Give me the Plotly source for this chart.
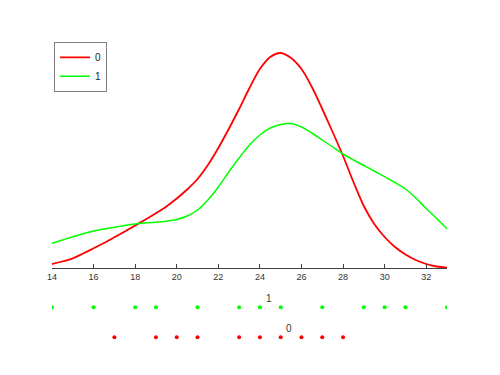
import plotly.graph_objects as go

# Density curves, at half-unit steps from 14 to 33
x_grid = [14, 14.5, 15, 15.5, 16, 16.5, 17, 17.5, 18, 18.5, 19, 19.5, 20, 20.5, 21, 21.5,
          22, 22.5, 23, 23.5, 24, 24.5, 25, 25.5, 26, 26.5, 27, 27.5, 28, 28.5, 29, 29.5,
          30, 30.5, 31, 31.5, 32, 32.5, 33]
density_0 = [0.0020, 0.00325, 0.00485, 0.00725, 0.00985, 0.0125, 0.01535, 0.01825, 0.02125,
             0.02425, 0.02735, 0.03075, 0.03475, 0.03925, 0.0445, 0.0515, 0.0600, 0.0695,
             0.0795, 0.0900, 0.0995, 0.1055, 0.1075, 0.1050, 0.0995, 0.0905, 0.0795, 0.0680,
             0.0560, 0.0430, 0.0310, 0.0220, 0.0155, 0.0105, 0.00675, 0.0040, 0.0020,
             0.00075, 0.00015]
density_1 = [0.01235, 0.0140, 0.01565, 0.01715, 0.0185, 0.0195, 0.02035, 0.02125, 0.0220,
             0.0225, 0.0229, 0.0234, 0.02425, 0.0260, 0.0290, 0.0340, 0.0405, 0.0480, 0.0550,
             0.0615, 0.0665, 0.0700, 0.07175, 0.07225, 0.0705, 0.0675, 0.0640, 0.0605, 0.0570,
             0.0540, 0.05125, 0.0485, 0.04565, 0.04275, 0.0395, 0.0350, 0.02975, 0.02475,
             0.01965]

# Raw observations shown as rug rows
obs_0 = [17, 19, 20, 21, 23, 24, 25, 26, 27, 28]
obs_1 = [14, 16, 18, 19, 21, 23, 24, 25, 27, 29, 30, 31, 33]

tick_vals = [14, 16, 18, 20, 22, 24, 26, 28, 30, 32]

RED = "#ff0000"
GREEN = "#00ff00"

fig = go.Figure()
fig.add_trace(go.Scatter(x=x_grid, y=density_0, mode="lines", name="0",
                         line=dict(color=RED, width=1.8, shape="spline", smoothing=1.0)))
fig.add_trace(go.Scatter(x=x_grid, y=density_1, mode="lines", name="1",
                         line=dict(color=GREEN, width=1.5, shape="spline", smoothing=1.0)))
fig.add_trace(go.Scatter(x=obs_1, y=[1] * len(obs_1), mode="markers", showlegend=False,
                         marker=dict(color=GREEN, size=4), xaxis="x2", yaxis="y2"))
fig.add_trace(go.Scatter(x=obs_0, y=[0] * len(obs_0), mode="markers", showlegend=False,
                         marker=dict(color=RED, size=4), xaxis="x2", yaxis="y2"))

fig.add_annotation(x=24.44, y=1.28, text="1", showarrow=False, xref="x2", yref="y2",
                   font=dict(size=10, color="#333333"))
fig.add_annotation(x=25.4, y=0.28, text="0", showarrow=False, xref="x2", yref="y2",
                   font=dict(size=10, color="#333333"))

fig.update_layout(
    width=500, height=375,
    margin=dict(l=44, r=61, t=32, b=33),
    paper_bgcolor="white", plot_bgcolor="white",
    font=dict(family="Liberation Sans, Arial, sans-serif", size=9, color="#333333"),
    showlegend=True,
    legend=dict(x=0.005, y=0.994, xanchor="left", yanchor="top",
                bgcolor="white", bordercolor="#808080", borderwidth=1,
                font=dict(size=10, color="#222222"), tracegroupgap=0,
                itemwidth=30),
    xaxis=dict(range=[14, 33], tickvals=tick_vals, ticks="inside", ticklen=4,
               tickcolor="#404040", showline=True, linecolor="#404040", linewidth=1,
               showgrid=False, zeroline=False, anchor="y",
               tickfont=dict(size=9, color="#333333")),
    yaxis=dict(domain=[0.2645, 1], range=[0, 0.114], visible=False),
    xaxis2=dict(range=[14, 33], visible=False, anchor="y2", matches="x"),
    yaxis2=dict(domain=[0, 0.2645], range=[-0.423, 2.31], visible=False),
)

fig.write_html("out.html")
